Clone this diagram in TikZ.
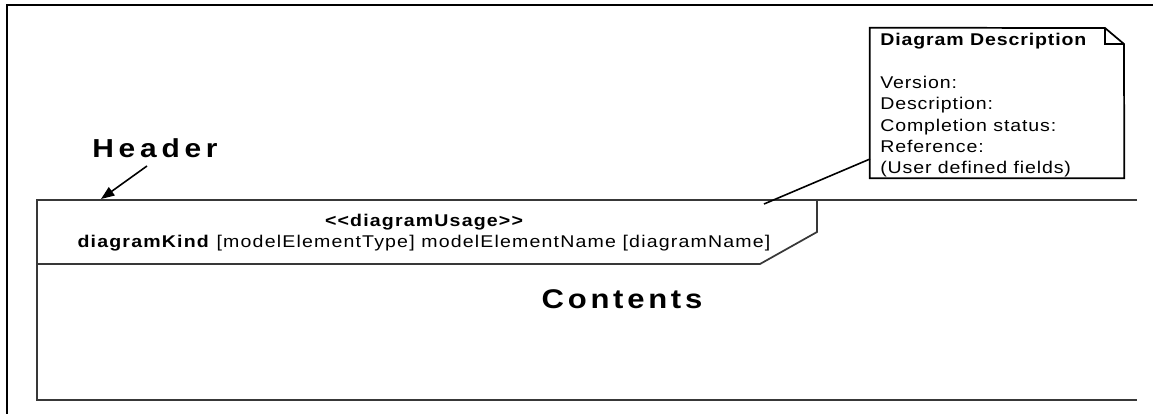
\documentclass[tikz,border=0pt]{standalone}
\usepackage{fontspec}
\usepackage{graphicx}
\setmainfont{Liberation Sans}
\newfontfamily\notefont[LetterSpace=4.5]{Liberation Sans}
\newfontfamily\hdrfont[LetterSpace=6]{Liberation Sans}
\newfontfamily\headfont[LetterSpace=16]{Liberation Sans}
\newfontfamily\contfont[LetterSpace=12]{Liberation Sans}
\newcommand{\wide}[1]{\scalebox{1.15}[1]{#1}}
\usetikzlibrary{arrows.meta}
\begin{document}
\begin{tikzpicture}[x=0.75pt,y=-0.75pt,
  border/.style={line width=1.5pt,black},
  frameline/.style={line width=1.3pt,black!78},
  noteline/.style={line width=1.3pt,black},
  link/.style={line width=1.2pt,black},
  notetext/.style={inner sep=0pt,anchor=base west,font=\notefont\fontsize{12.75pt}{15pt}\selectfont},
  hdrtext/.style={inner sep=0pt,anchor=base,font=\hdrfont\fontsize{12.75pt}{15pt}\selectfont},
  bigtext/.style={inner sep=0pt,anchor=base}]
\useasboundingbox (0,0) rectangle (1153,414);
\fill[white] (0,0) rectangle (1153,414);
% outer border
\draw[border] (1160,5) -- (7,5) -- (7,420);
% diagram frame
\coordinate (ftr) at (1137,200);
\coordinate (ftl) at (37,200);
\coordinate (fbl) at (37,400);
\coordinate (fbr) at (1137,400);
\draw[frameline] (ftr) -- (ftl) -- (fbl) -- (fbr);
% header pentagon
\coordinate (hbl) at (37,264);
\coordinate (hbr) at (760,264);
\coordinate (hdg) at (817,232);
\coordinate (htr) at (817,200);
\draw[frameline] (hbl) -- (hbr) -- (hdg) -- (htr);
% header texts
\node[hdrtext] (usage) at (424,226) {\wide{\bfseries <<diagramUsage>>}};
\node[hdrtext] (kind) at (424,247) {\wide{\textbf{diagramKind} [modelElementType] modelElementName [diagramName]}};
% labels
\node[bigtext,font=\headfont\bfseries\fontsize{19.5pt}{22pt}\selectfont] (header) at (155,157) {\wide{Header}};
\node[bigtext,font=\contfont\bfseries\fontsize{20.25pt}{23pt}\selectfont] (contents) at (622,308) {\wide{Contents}};
% header arrow
\coordinate (hastart) at (147,166);
\coordinate (haend) at (101,199);
\draw[link,-{Triangle[length=10pt,width=7.5pt]}] (hastart) -- (haend);
% note
\node[minimum width=254*0.75pt,minimum height=150*0.75pt,inner sep=0pt] (note) at (997,103) {};
\draw[noteline] (note.north west) -- (1105,28) -- (1124,44) -- (note.south east) -- (note.south west) -- cycle;
\draw[noteline] (1105,28) -- (1105,44) -- (1124,44);
\node[notetext] (ntitle) at (880,45) {\wide{\bfseries Diagram Description}};
\node[notetext] (nver) at (880,88) {\wide{Version:}};
\node[notetext] (ndesc) at (880,109.5) {\wide{Description:}};
\node[notetext] (ncomp) at (880,131) {\wide{Completion status:}};
\node[notetext] (nref) at (880,152) {\wide{Reference:}};
\node[notetext] (nuser) at (880,173) {\wide{(User defined fields)}};
% note connector
\coordinate (notelink) at (870,159);
\coordinate (hdrlink) at (764,204);
\draw[link] (notelink) -- (hdrlink);
\end{tikzpicture}
\end{document}
